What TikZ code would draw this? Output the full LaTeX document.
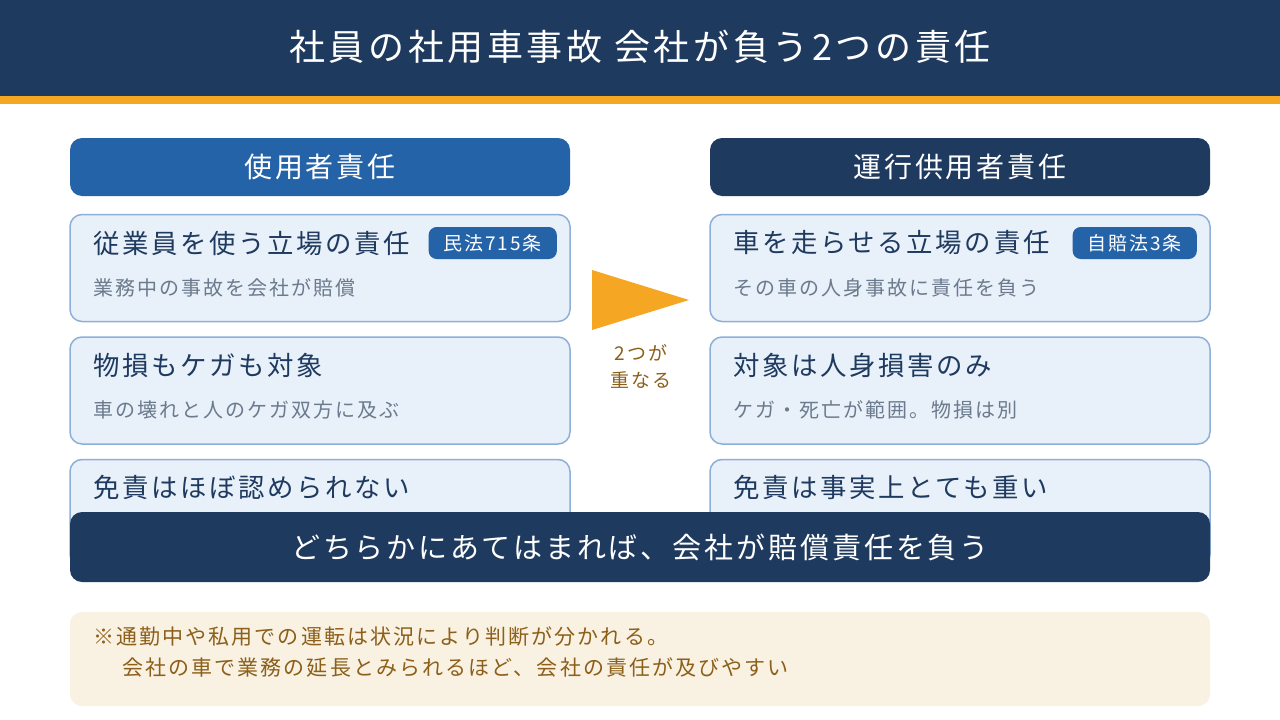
\documentclass[tikz,border=0pt]{standalone}
\usepackage{fontspec}
\setmainfont{Noto Sans CJK JP}[LetterSpace=10]
\usetikzlibrary{positioning}

\definecolor{navy}{HTML}{1F3A5F}
\definecolor{lawblue}{HTML}{2563A8}
\definecolor{accent}{HTML}{F5A623}
\definecolor{cardfill}{HTML}{E8F0FA}
\definecolor{cardline}{HTML}{8EAFD8}
\definecolor{subgray}{HTML}{6B7A8C}
\definecolor{notefill}{HTML}{F9F1E1}
\definecolor{notetext}{HTML}{8C5F1A}

\begin{document}
\begin{tikzpicture}[x=1pt, y=-1pt,
    headbox/.style={rounded corners=12pt, minimum width=500pt, minimum height=58pt,
                    inner sep=0pt, text=white, font=\fontsize{28}{32}\selectfont},
    cardbox/.style={rounded corners=12pt, fill=cardfill, draw=cardline, line width=1.5pt,
                    minimum width=500pt, minimum height=107pt, inner sep=0pt},
    cardtitle/.style={anchor=west, inner sep=0pt, text=navy, font=\fontsize{26.4}{30}\selectfont},
    cardsub/.style={anchor=west, inner sep=0pt, text=subgray, font=\fontsize{20}{24}\selectfont},
    badge/.style={anchor=east, rounded corners=8pt, fill=lawblue, text=white, inner xsep=15pt,
                  inner ysep=0pt, minimum height=32pt, font=\fontsize{19}{22}\selectfont},
    notetxt/.style={anchor=west, inner sep=0pt, text=notetext, font=\fontsize{21}{25}\selectfont}]
  % Define canvas
  \useasboundingbox (0,0) rectangle (1280,720);
  \fill[white] (0,0) rectangle (1280,720);

  % Title bar
  \fill[navy] (0,0) rectangle (1280,96);
  \fill[accent] (0,96) rectangle (1280,104);
  \node[text=white, font=\fontsize{36}{40}\selectfont] (title) at (640,47) {社員の社用車事故 会社が負う2つの責任};

  % Column heads
  \node[headbox, fill=lawblue] (lhead) at (320,167) {使用者責任};
  \node[headbox, fill=navy] (rhead) at (960,167) {運行供用者責任};

  % Cards
  \foreach \y/\k in {268/1, 390.5/2, 513/3} {
      \node[cardbox] (lcard\k) at (320,\y) {};
      \node[cardbox] (rcard\k) at (960,\y) {};
  }

  % Left column texts
  \node[cardtitle] (lt1) at (93,243) {従業員を使う立場の責任};
  \node[badge] (lbadge) at (557,243) {民法715条};
  \node[cardsub] (ls1) at (93,288) {業務中の事故を会社が賠償};
  \node[cardtitle] (lt2) at (93,365) {物損もケガも対象};
  \node[cardsub] (ls2) at (93,410) {車の壊れと人のケガ双方に及ぶ};
  \node[cardtitle] (lt3) at (93,487) {免責はほぼ認められない};

  % Right column texts
  \node[cardtitle] (rt1) at (733,243) {車を走らせる立場の責任};
  \node[badge] (rbadge) at (1197,243) {自賠法3条};
  \node[cardsub] (rs1) at (733,288) {その車の人身事故に責任を負う};
  \node[cardtitle] (rt2) at (733,365) {対象は人身損害のみ};
  \node[cardsub] (rs2) at (733,410) {ケガ・死亡が範囲。物損は別};
  \node[cardtitle] (rt3) at (733,487) {免責は事実上とても重い};

  % Middle marker
  \coordinate (P) at (592,270);
  \coordinate (Q) at (592,330);
  \coordinate (R) at (689,300);
  \fill[accent] (P) -- (R) -- (Q) -- cycle;
  \node[text=notetext, font=\fontsize{19}{22}\selectfont, align=center] (overlap) at (641,366)
      {2つが\\[5pt]重なる};

  % Bottom banner
  \node[rounded corners=12pt, fill=navy, minimum width=1140pt, minimum height=70pt, inner sep=0pt,
        text=white, font=\fontsize{29}{33}\selectfont] (banner) at (640,547)
      {どちらかにあてはまれば、会社が賠償責任を負う};

  % Note
  \fill[notefill, rounded corners=12pt] (70,612) rectangle (1210,706);
  \node[notetxt] (note1) at (93,637) {※通勤中や私用での運転は状況により判断が分かれる。};
  \node[notetxt] (note2) at (122,668) {会社の車で業務の延長とみられるほど、会社の責任が及びやすい};
\end{tikzpicture}
\end{document}
